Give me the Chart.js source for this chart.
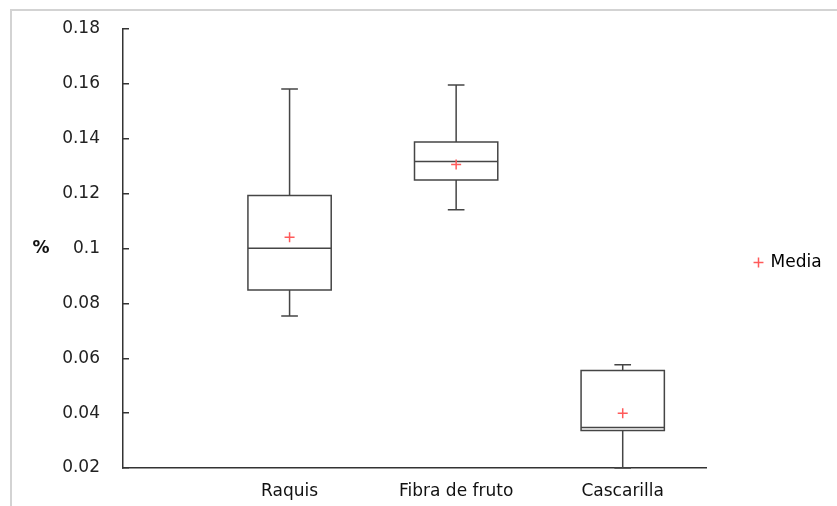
<!DOCTYPE html>
<html>
<head>
<meta charset="utf-8">
<script src="https://cdn.jsdelivr.net/npm/chart.js@4.4.1/dist/chart.umd.min.js"></script>
<style>
  html, body { margin: 0; padding: 0; background: #fff; }
  #wrap { position: relative; width: 837px; height: 506px; }
  #frame { position: absolute; left: 10px; top: 9px; right: 0; bottom: 0;
           border-top: 2px solid #d3d3d3; border-left: 2px solid #d3d3d3; pointer-events: none; }
  canvas { position: absolute; left: 0; top: 0; }
</style>
</head>
<body>
<div id="wrap">
  <canvas id="c" width="837" height="506"></canvas>
  <div id="frame"></div>
</div>
<script>
// Box-plot summary per material
const categories = ['Raquis', 'Fibra de fruto', 'Cascarilla'];
const minimum   = [0.0754, 0.1141, 0.0200];
const quartile1 = [0.0849, 0.1250, 0.0337];
const median    = [0.1001, 0.1317, 0.0348];
const quartile3 = [0.1193, 0.1388, 0.0555];
const maximum   = [0.1581, 0.1596, 0.0576];
const mean      = [0.1041, 0.1306, 0.0400];
const yTicks    = [0.02, 0.04, 0.06, 0.08, 0.10, 0.12, 0.14, 0.16, 0.18];

const BOX_HALF = 0.25;   // half box width, in x units
const CAP_HALF = 0.05;   // half whisker-cap width, in x units
const LINE = '#454545';

// Draws boxes, medians and whiskers through the chart scales
const boxPlot = {
  id: 'boxPlot',
  beforeDatasetsDraw(chart) {
    const { ctx, scales: { x, y } } = chart;
    ctx.save();
    ctx.strokeStyle = LINE;
    ctx.lineWidth = 1.5;
    categories.forEach((c, i) => {
      const pos = i + 1;
      const cx = x.getPixelForValue(pos);
      const l = x.getPixelForValue(pos - BOX_HALF);
      const r = x.getPixelForValue(pos + BOX_HALF);
      const cl = x.getPixelForValue(pos - CAP_HALF);
      const cr = x.getPixelForValue(pos + CAP_HALF);
      const yMin = y.getPixelForValue(minimum[i]);
      const yQ1 = y.getPixelForValue(quartile1[i]);
      const yMed = y.getPixelForValue(median[i]);
      const yQ3 = y.getPixelForValue(quartile3[i]);
      const yMax = y.getPixelForValue(maximum[i]);
      ctx.beginPath();
      ctx.rect(l, yQ3, r - l, yQ1 - yQ3);
      ctx.moveTo(l, yMed); ctx.lineTo(r, yMed);
      ctx.moveTo(cx, yQ3); ctx.lineTo(cx, yMax);
      ctx.moveTo(cl, yMax); ctx.lineTo(cr, yMax);
      ctx.moveTo(cx, yQ1); ctx.lineTo(cx, yMin);
      ctx.moveTo(cl, yMin); ctx.lineTo(cr, yMin);
      ctx.stroke();
    });
    ctx.restore();
  }
};

// Horizontal "%" axis caption
const yCaption = {
  id: 'yCaption',
  afterDraw(chart) {
    const { ctx, scales: { y } } = chart;
    ctx.save();
    ctx.font = 'bold 17px "DejaVu Sans"';
    ctx.fillStyle = '#111';
    ctx.textAlign = 'center';
    ctx.textBaseline = 'middle';
    ctx.fillText('%', 41, (y.top + y.bottom) / 2);
    ctx.restore();
  }
};

// Fixed legend column width and vertical offset
const legendPlacement = {
  id: 'legendPlacement',
  afterInit(chart) {
    const lg = chart.legend;
    const fit = lg.fit;
    lg.fit = function () { fit.call(this); this.width = 131; };
  },
  afterLayout(chart) {
    chart.legend.top -= 5;
    chart.legend.bottom -= 5;
  }
};

new Chart(document.getElementById('c'), {
  type: 'scatter',
  data: {
    datasets: [{
      label: 'Media',
      data: mean.map((m, i) => ({ x: i + 1, y: m })),
      pointStyle: 'cross',
      pointRadius: 5,
      borderColor: '#ff5a5a',
      backgroundColor: '#ff5a5a',
      borderWidth: 1.5
    }]
  },
  options: {
    responsive: false,
    animation: false,
    devicePixelRatio: 1,
    layout: { padding: { top: 29, left: 0, right: 0, bottom: 0 } },
    plugins: {
      tooltip: { enabled: false },
      legend: {
        position: 'right',
        align: 'center',
        labels: {
          usePointStyle: true,
          boxWidth: 7,
          boxHeight: 7,
          padding: 49,
          color: '#000',
          font: { family: '"DejaVu Sans"', size: 17 }
        }
      }
    },
    scales: {
      x: {
        type: 'linear',
        min: 0,
        max: 3.5,
        afterBuildTicks(s) { s.ticks = categories.map((c, i) => ({ value: i + 1 })); },
        afterFit(s) { s.height = 38; s.paddingLeft = 0; s.paddingRight = 0; },
        grid: { display: false },
        border: { display: true, color: '#333', width: 1.5 },
        ticks: {
          autoSkip: false,
          maxRotation: 0,
          padding: 5,
          color: '#111',
          font: { family: '"DejaVu Sans"', size: 17 },
          callback: v => categories[Math.round(v) - 1]
        }
      },
      y: {
        type: 'linear',
        min: 0.02,
        max: 0.18,
        afterBuildTicks(s) { s.ticks = yTicks.map(v => ({ value: v })); },
        afterFit(s) { s.width = 123; s.paddingTop = 0; s.paddingBottom = 0; },
        grid: { display: true, drawOnChartArea: false, drawTicks: true, tickLength: -6, color: '#333', lineWidth: 1.5 },
        border: { display: true, color: '#333', width: 1.5 },
        ticks: {
          padding: 29,
          color: '#222',
          font: { family: '"DejaVu Sans"', size: 17 },
          callback: v => String(parseFloat(Number(v).toFixed(2)))
        }
      }
    }
  },
  plugins: [boxPlot, yCaption, legendPlacement]
});
</script>
</body>
</html>
